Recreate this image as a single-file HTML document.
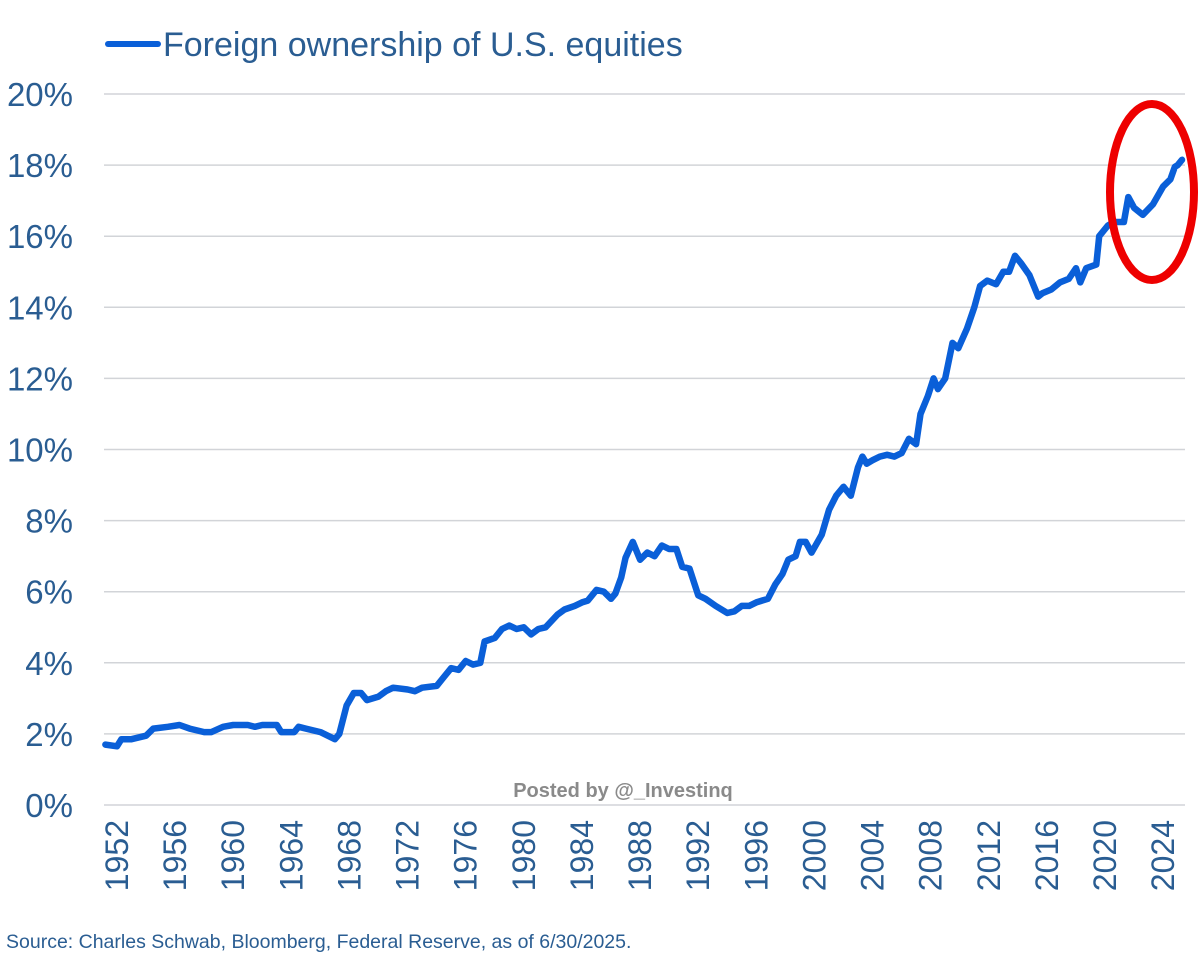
<!DOCTYPE html>
<html><head><meta charset="utf-8"><style>
body{margin:0;background:#fff;width:1200px;height:957px;overflow:hidden;font-family:"Liberation Sans",sans-serif}
</style></head><body>
<svg width="1200" height="957" xmlns="http://www.w3.org/2000/svg">
<g id="grid"></g>
<g id="ylab"></g>
<g id="xlab"></g>
<path id="line" fill="none" stroke="#0a5fd8" stroke-width="6.5" stroke-linejoin="round" stroke-linecap="round"/>
<ellipse cx="1152" cy="192" rx="42" ry="88" fill="none" stroke="#ee0000" stroke-width="8"/>
<line x1="108" y1="44" x2="158" y2="44" stroke="#0a5fd8" stroke-width="6" stroke-linecap="round"/>
<text x="163" y="56" font-size="34" fill="#2a5d92">Foreign ownership of U.S. equities</text>
<text x="623" y="797" font-size="20" font-weight="bold" fill="#8a8a8a" text-anchor="middle">Posted by @_Investinq</text>
<text x="6" y="948" font-size="19.5" fill="#2a5d92">Source: Charles Schwab, Bloomberg, Federal Reserve, as of 6/30/2025.</text>
</svg>
<script>
const years=[1951.2,1952,1952.3,1953,1954,1954.5,1955.5,1956.3,1957,1958,1958.5,1959.3,1960,1961,1961.5,1962,1963,1963.3,1964.2,1964.5,1965,1966,1967,1967.3,1967.8,1968.3,1968.8,1969.2,1970,1970.5,1971,1972,1972.5,1973,1974,1974.5,1975,1975.5,1976,1976.5,1977,1977.3,1978,1978.5,1979,1979.5,1980,1980.5,1981,1981.5,1982.3,1982.8,1983.5,1984,1984.4,1985,1985.5,1986,1986.3,1986.7,1987,1987.5,1988,1988.5,1989,1989.5,1990,1990.5,1990.9,1991.4,1992,1992.5,1993.2,1994,1994.5,1995,1995.5,1996,1996.8,1997.3,1997.8,1998.2,1998.7,1999,1999.4,1999.8,2000.5,2001,2001.5,2002,2002.5,2003,2003.3,2003.6,2004,2004.5,2005,2005.5,2006,2006.5,2007,2007.3,2007.8,2008.2,2008.5,2009,2009.5,2009.9,2010.5,2011,2011.4,2011.9,2012.5,2013,2013.4,2013.8,2014.2,2014.8,2015.4,2015.7,2016.3,2016.9,2017.5,2018,2018.3,2018.7,2019.4,2019.6,2020.2,2020.6,2021.3,2021.6,2022,2022.6,2023.3,2024,2024.5,2024.8,2025,2025.3];
const values=[1.7,1.65,1.85,1.85,1.95,2.15,2.2,2.25,2.15,2.05,2.05,2.2,2.25,2.25,2.2,2.25,2.25,2.05,2.05,2.2,2.15,2.05,1.85,2.0,2.8,3.15,3.15,2.95,3.05,3.2,3.3,3.25,3.2,3.3,3.35,3.6,3.85,3.8,4.05,3.95,4.0,4.6,4.7,4.95,5.05,4.95,5.0,4.8,4.95,5.0,5.35,5.5,5.6,5.7,5.75,6.05,6.0,5.8,5.95,6.4,6.95,7.4,6.9,7.1,7.0,7.3,7.2,7.2,6.7,6.65,5.9,5.8,5.6,5.4,5.45,5.6,5.6,5.7,5.8,6.2,6.5,6.9,7.0,7.4,7.4,7.1,7.6,8.3,8.7,8.95,8.7,9.5,9.8,9.6,9.7,9.8,9.85,9.8,9.9,10.3,10.15,11.0,11.5,12.0,11.7,12.0,13.0,12.85,13.4,14.0,14.6,14.75,14.65,15.0,15.0,15.45,15.25,14.9,14.3,14.4,14.5,14.7,14.8,15.1,14.7,15.1,15.2,16.0,16.3,16.4,16.4,17.1,16.8,16.6,16.9,17.4,17.6,17.95,18.0,18.15];
const yTicks=[0,2,4,6,8,10,12,14,16,18,20];
const xTicks=[1952,1956,1960,1964,1968,1972,1976,1980,1984,1988,1992,1996,2000,2004,2008,2012,2016,2020,2024];
const X=y=>117+(y-1952)*14.53;
const Y=v=>805-v*35.55;
const NS='http://www.w3.org/2000/svg';
const grid=document.getElementById('grid'),ylab=document.getElementById('ylab'),xlab=document.getElementById('xlab');
yTicks.forEach(t=>{
 const l=document.createElementNS(NS,'line');
 
 
 l.setAttribute('x1',104);l.setAttribute('x2',1185);l.setAttribute('y1',Y(t));l.setAttribute('y2',Y(t));
 l.setAttribute('stroke','#d2d4d8');l.setAttribute('stroke-width','1.5');grid.appendChild(l);
 const tx=document.createElementNS(NS,'text');
 
 
 tx.setAttribute('x',73);tx.setAttribute('y',Y(t)+12);tx.setAttribute('text-anchor','end');
 tx.setAttribute('font-size','33');tx.setAttribute('fill','#2a5d92');tx.textContent=t+'%';ylab.appendChild(tx);
});
xTicks.forEach(t=>{
 const tx=document.createElementNS(NS,'text');
 
 
 const x=X(t)+11,y=820;
 tx.setAttribute('transform',`translate(${x},${y}) rotate(-90)`);
 tx.setAttribute('text-anchor','end');tx.setAttribute('font-size','32');tx.setAttribute('fill','#2a5d92');
 tx.textContent=t;xlab.appendChild(tx);
});
document.getElementById('line').setAttribute('d',years.map((y,i)=>(i?'L':'M')+X(y).toFixed(1)+','+Y(values[i]).toFixed(1)).join(''));
</script>
</body></html>
